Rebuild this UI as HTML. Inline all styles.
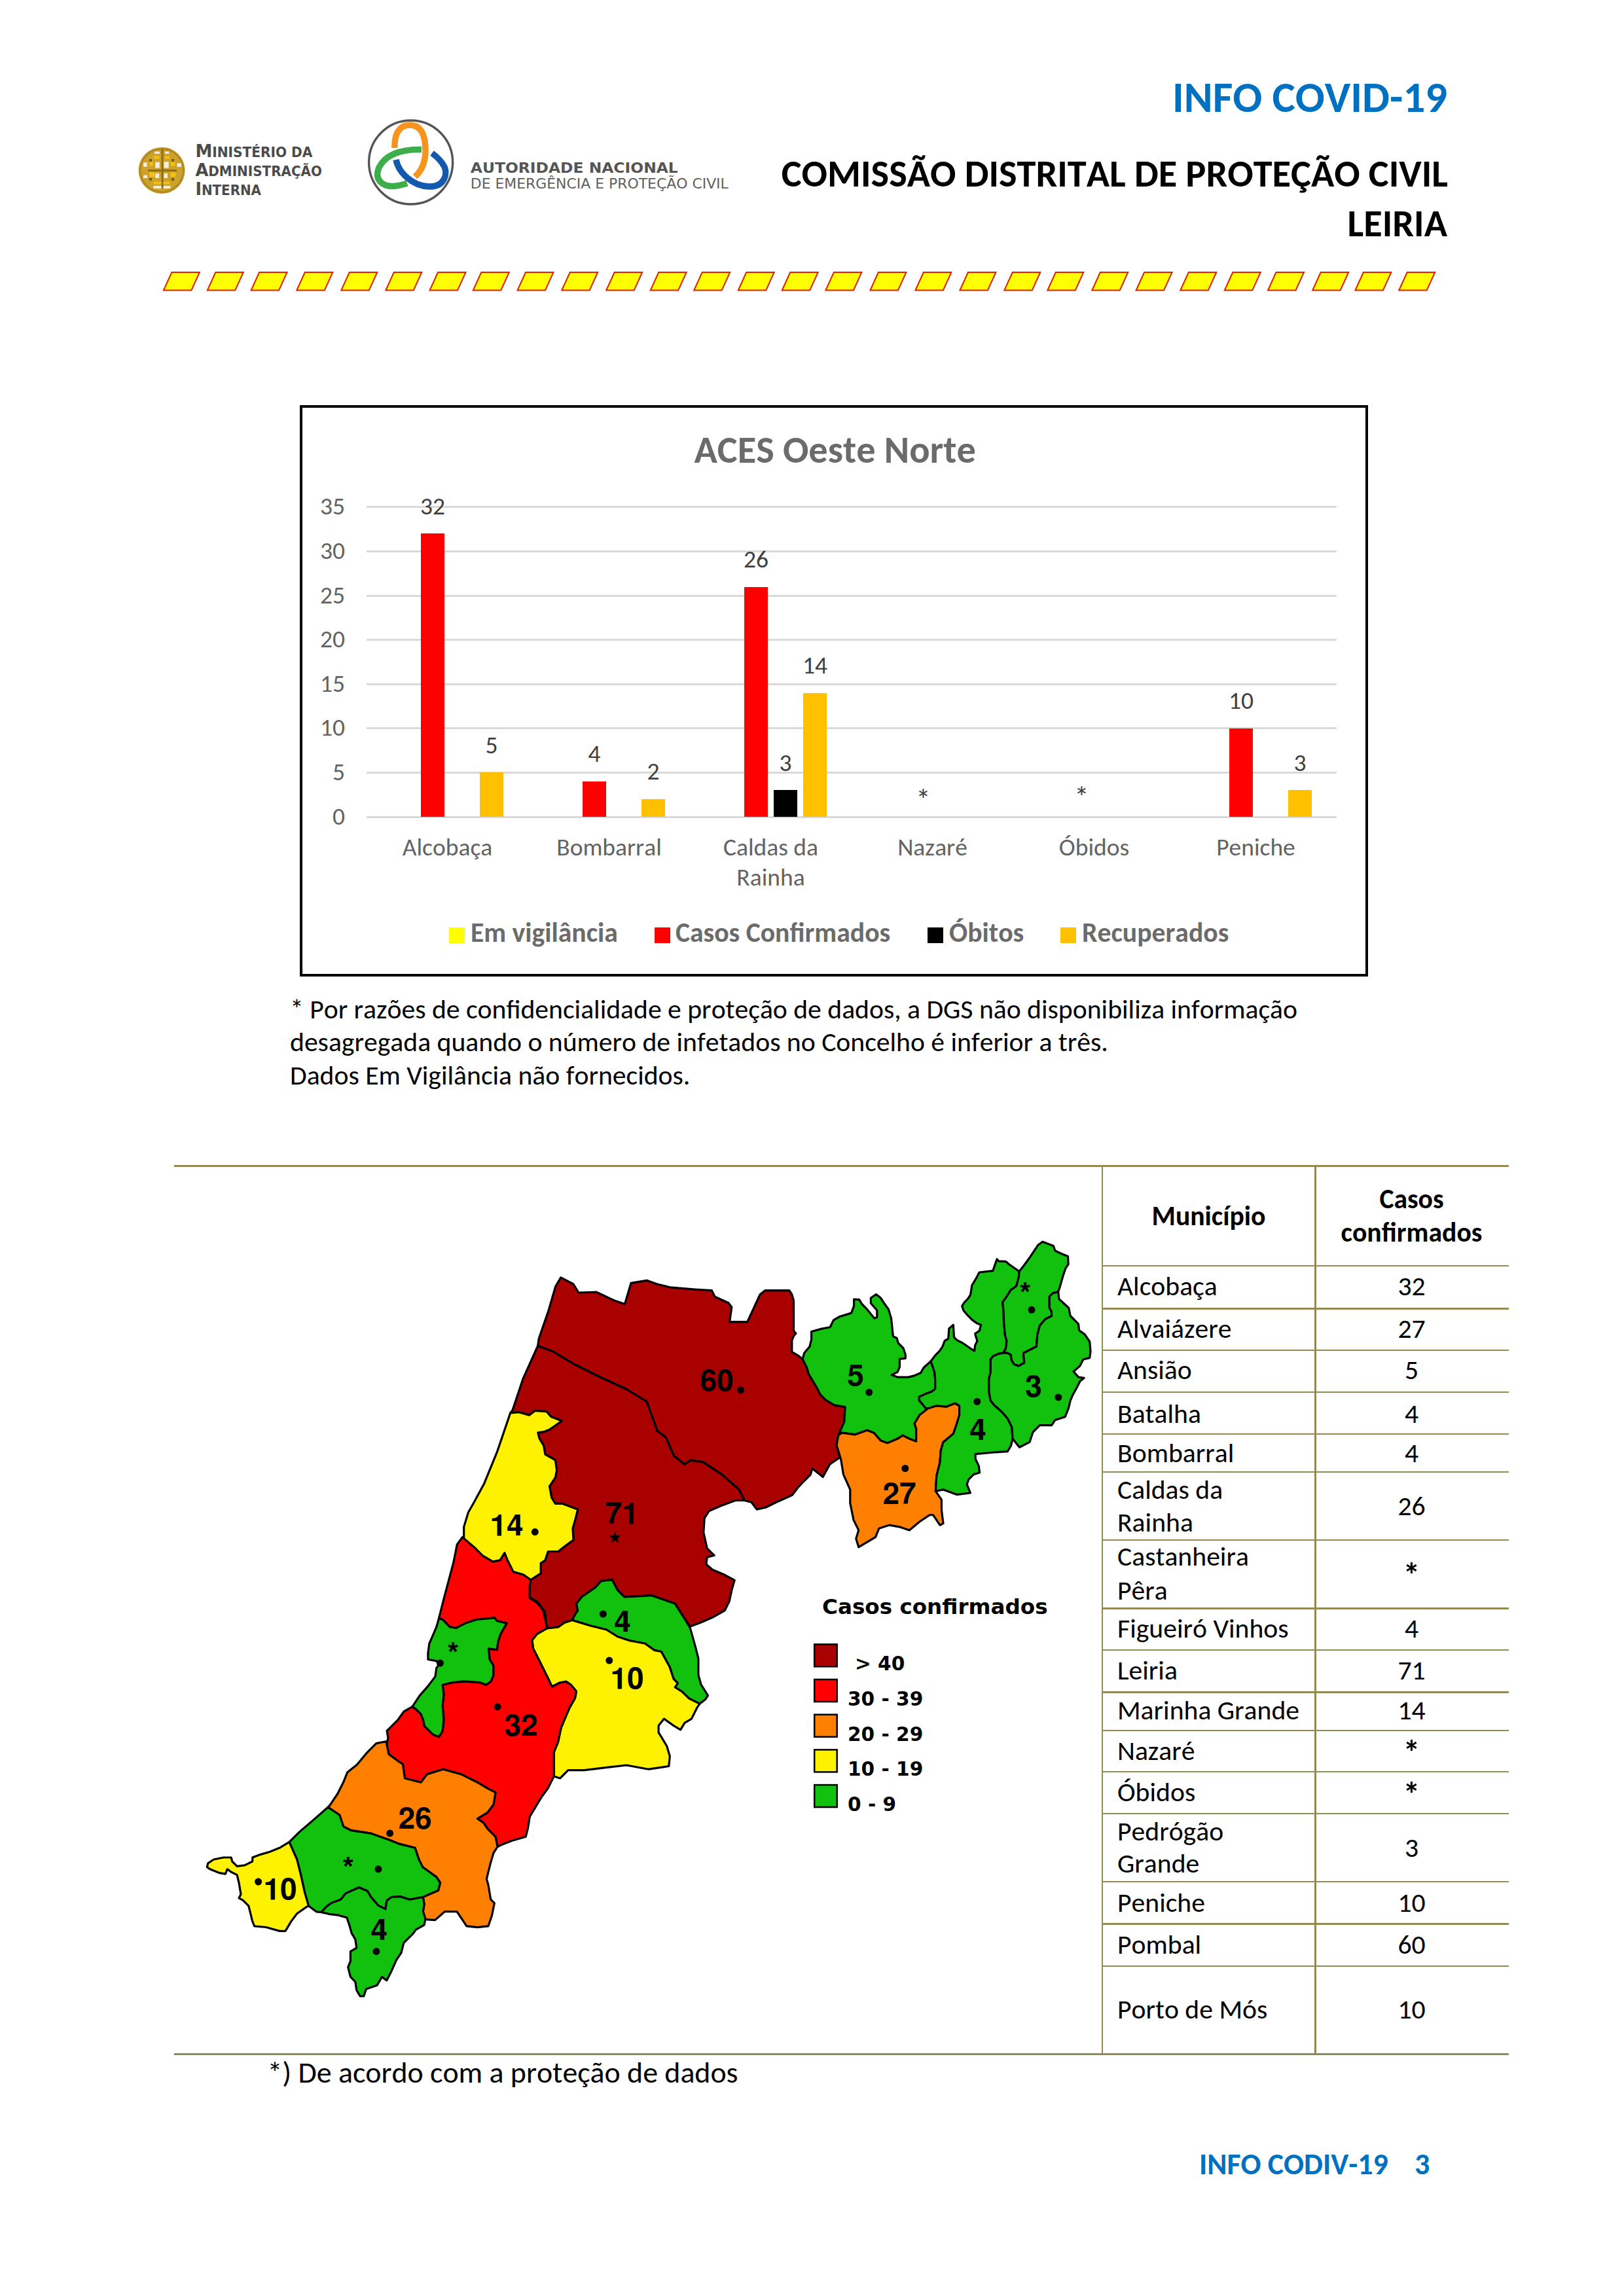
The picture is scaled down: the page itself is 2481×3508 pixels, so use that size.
<!DOCTYPE html>
<html lang="pt"><head><meta charset="utf-8"><title>INFO COVID-19 - Leiria</title>
<style>
html,body{margin:0;padding:0;background:#fff}
body{width:2481px;height:3508px;position:relative;overflow:hidden;font-family:"Carlito","Liberation Sans",sans-serif;font-kerning:none}
.t{position:absolute;white-space:nowrap;line-height:1.2207;font-kerning:none}
.t span{display:inline-block}
</style></head><body>
<div class="t" style="right:270.0px;text-align:right;top:107.8px;font-size:66.67px;font-weight:700;color:#0070C0;"><span id="t0">INFO COVID-19</span></div><div class="t" style="right:269.0px;text-align:right;top:229.5px;font-size:58.33px;font-weight:700;color:#000;"><span id="t1">COMISSÃO DISTRITAL DE PROTEÇÃO CIVIL</span></div><div class="t" style="right:270.0px;text-align:right;top:305.5px;font-size:58.33px;font-weight:700;color:#000;"><span id="t2">LEIRIA</span></div><svg style="position:absolute;left:0;top:0" width="2481" height="500" viewBox="0 0 2481 500"><g fill="#FFFF00" stroke="#E02000" stroke-width="2"><polygon points="249.9,443.5 292.4,443.5 304.9,416 262.4,416" /><polygon points="316.8,443.5 359.3,443.5 371.8,416 329.3,416" /><polygon points="383.6,443.5 426.1,443.5 438.6,416 396.1,416" /><polygon points="453.3,443.5 495.8,443.5 508.3,416 465.8,416" /><polygon points="521.3,443.5 563.8,443.5 576.3,416 533.8,416" /><polygon points="589.3,443.5 631.8,443.5 644.3,416 601.8,416" /><polygon points="656.5,443.5 699.0,443.5 711.5,416 669.0,416" /><polygon points="722.8,443.5 765.3,443.5 777.8,416 735.3,416" /><polygon points="790.5,443.5 833.0,443.5 845.5,416 803.0,416" /><polygon points="858.2,443.5 900.7,443.5 913.2,416 870.7,416" /><polygon points="926.2,443.5 968.7,443.5 981.2,416 938.7,416" /><polygon points="993.7,443.5 1036.2,443.5 1048.7,416 1006.2,416" /><polygon points="1060.2,443.5 1102.7,443.5 1115.2,416 1072.7,416" /><polygon points="1127.7,443.5 1170.2,443.5 1182.7,416 1140.2,416" /><polygon points="1194.7,443.5 1237.2,443.5 1249.7,416 1207.2,416" /><polygon points="1261.4,443.5 1303.9,443.5 1316.4,416 1273.9,416" /><polygon points="1329.4,443.5 1371.9,443.5 1384.4,416 1341.9,416" /><polygon points="1398.4,443.5 1440.9,443.5 1453.4,416 1410.9,416" /><polygon points="1466.4,443.5 1508.9,443.5 1521.4,416 1478.9,416" /><polygon points="1534.3,443.5 1576.8,443.5 1589.3,416 1546.8,416" /><polygon points="1600.3,443.5 1642.8,443.5 1655.3,416 1612.8,416" /><polygon points="1668.3,443.5 1710.8,443.5 1723.3,416 1680.8,416" /><polygon points="1735.6,443.5 1778.1,443.5 1790.6,416 1748.1,416" /><polygon points="1803.3,443.5 1845.8,443.5 1858.3,416 1815.8,416" /><polygon points="1870.8,443.5 1913.3,443.5 1925.8,416 1883.3,416" /><polygon points="1937.0,443.5 1979.5,443.5 1992.0,416 1949.5,416" /><polygon points="2005.2,443.5 2047.7,443.5 2060.2,416 2017.7,416" /><polygon points="2070.4,443.5 2112.9,443.5 2125.4,416 2082.9,416" /><polygon points="2137.2,443.5 2179.7,443.5 2192.2,416 2149.7,416" /></g><circle cx="247.1" cy="260.4" r="35.5" fill="#CDA22B"/><circle cx="247.1" cy="260.4" r="33" fill="none" stroke="#B08A25" stroke-width="3"/><rect x="234.4" y="238.3" width="9.4" height="4.4" fill="#F2C010"/><rect x="252.1" y="238.3" width="7.2" height="4.4" fill="#F2C010"/><rect x="228.3" y="247.1" width="5.5" height="6.7" fill="#F2C010"/><rect x="260.4" y="247.1" width="7.2" height="6.7" fill="#F2C010"/><rect x="228.3" y="263.2" width="7.7" height="7.2" fill="#F2C010"/><rect x="260.4" y="263.2" width="7.8" height="7.2" fill="#F2C010"/><rect x="234.4" y="277.6" width="24.9" height="3.9" fill="#F2C010"/><rect x="219.1" y="248.3" width="5.6" height="6.6" fill="#F4EEDD"/><rect x="237.2" y="247.7" width="6.6" height="8.9" fill="#F4EEDD"/><rect x="250.5" y="247.1" width="7.2" height="9.5" fill="#F4EEDD"/><rect x="270.4" y="249.4" width="6.7" height="5.5" fill="#F4EEDD"/><rect x="219.1" y="267.7" width="5.9" height="4.4" fill="#F4EEDD"/><rect x="237.2" y="264.9" width="6.0" height="7.2" fill="#F4EEDD"/><rect x="250.5" y="264.9" width="5.5" height="7.2" fill="#F4EEDD"/><rect x="236" y="231.6" width="7.8" height="3.4" fill="#F4EEDD"/><rect x="252.1" y="231.6" width="6.1" height="3.4" fill="#F4EEDD"/><rect x="234.4" y="284" width="26.0" height="4.0" fill="#F4EEDD"/><rect x="246.5" y="228" width="3" height="60" fill="#8F6E1C"/><rect x="226" y="259" width="44" height="3" fill="#8F6E1C"/><rect x="228" y="243" width="4" height="4" fill="#7A5A18"/><rect x="262" y="243" width="4" height="4" fill="#7A5A18"/><rect x="228" y="272" width="4" height="4" fill="#7A5A18"/><rect x="262" y="272" width="4" height="4" fill="#7A5A18"/><text x="298.4" y="239.8" style="font-family:'DejaVu Sans','Liberation Sans',sans-serif;font-weight:700;fill:#4B4B4B" textLength="179" lengthAdjust="spacingAndGlyphs"><tspan font-size="26.5">M</tspan><tspan font-size="20.5">INISTÉRIO DA</tspan></text><text x="298.4" y="268.9" style="font-family:'DejaVu Sans','Liberation Sans',sans-serif;font-weight:700;fill:#4B4B4B" textLength="193.5" lengthAdjust="spacingAndGlyphs"><tspan font-size="26.5">A</tspan><tspan font-size="20.5">DMINISTRAÇÃO</tspan></text><text x="298.4" y="298" style="font-family:'DejaVu Sans','Liberation Sans',sans-serif;font-weight:700;fill:#4B4B4B" textLength="100.5" lengthAdjust="spacingAndGlyphs"><tspan font-size="26.5">I</tspan><tspan font-size="20.5">NTERNA</tspan></text><circle cx="627.6" cy="248" r="64" fill="none" stroke="#555" stroke-width="3.4"/><path d="M603,226 C602,202 612,191 626,191 C643,191 650,206 650,230 C650,250 643,262 634,270" fill="none" stroke="#F7941D" stroke-width="9.5"/><path d="M644,228.5 C612,227.5 588,237 579,256 C571,274 584,285 600,284.5 C610,284 616,282 622,280" fill="none" stroke="#3DAE49" stroke-width="9.5"/><path d="M605,244 C609,264 630,284 655,285 C679,286 684,266 679,255 C674,245 667,239 660,234" fill="none" stroke="#1359AE" stroke-width="9.5"/><text x="718.8" y="264" font-size="21.3" style="font-family:'DejaVu Sans','Liberation Sans',sans-serif;font-weight:700;fill:#555" textLength="317" lengthAdjust="spacingAndGlyphs">AUTORIDADE NACIONAL</text><text x="718.8" y="287.5" font-size="21.3" style="font-family:'DejaVu Sans','Liberation Sans',sans-serif;font-weight:400;fill:#5F5F5F" textLength="394" lengthAdjust="spacingAndGlyphs">DE EMERGÊNCIA E PROTEÇÃO CIVIL</text></svg><div style="position:absolute;left:458px;top:619px;width:1632px;height:873px;border:4px solid #000;box-sizing:border-box"></div><div class="t" style="left:1060.5px;top:652.3px;font-size:58.33px;font-weight:700;color:#6B6B6B;"><span id="t3">ACES Oeste Norte</span></div><div style="position:absolute;left:560.0px;top:1246.5px;width:1482.0px;height:3.0px;background:#D9D9D9;"></div><div class="t" style="right:1954.0px;text-align:right;top:1224.6px;font-size:37.5px;font-weight:400;color:#636363;"><span id="t4">0</span></div><div style="position:absolute;left:560.0px;top:1178.9px;width:1482.0px;height:3.0px;background:#D9D9D9;"></div><div class="t" style="right:1954.0px;text-align:right;top:1157.0px;font-size:37.5px;font-weight:400;color:#636363;"><span id="t5">5</span></div><div style="position:absolute;left:560.0px;top:1111.3px;width:1482.0px;height:3.0px;background:#D9D9D9;"></div><div class="t" style="right:1954.0px;text-align:right;top:1089.4px;font-size:37.5px;font-weight:400;color:#636363;"><span id="t6">10</span></div><div style="position:absolute;left:560.0px;top:1043.7px;width:1482.0px;height:3.0px;background:#D9D9D9;"></div><div class="t" style="right:1954.0px;text-align:right;top:1021.8px;font-size:37.5px;font-weight:400;color:#636363;"><span id="t7">15</span></div><div style="position:absolute;left:560.0px;top:976.1px;width:1482.0px;height:3.0px;background:#D9D9D9;"></div><div class="t" style="right:1954.0px;text-align:right;top:954.2px;font-size:37.5px;font-weight:400;color:#636363;"><span id="t8">20</span></div><div style="position:absolute;left:560.0px;top:908.5px;width:1482.0px;height:3.0px;background:#D9D9D9;"></div><div class="t" style="right:1954.0px;text-align:right;top:886.6px;font-size:37.5px;font-weight:400;color:#636363;"><span id="t9">25</span></div><div style="position:absolute;left:560.0px;top:840.9px;width:1482.0px;height:3.0px;background:#D9D9D9;"></div><div class="t" style="right:1954.0px;text-align:right;top:819.0px;font-size:37.5px;font-weight:400;color:#636363;"><span id="t10">30</span></div><div style="position:absolute;left:560.0px;top:773.3px;width:1482.0px;height:3.0px;background:#D9D9D9;"></div><div class="t" style="right:1954.0px;text-align:right;top:751.4px;font-size:37.5px;font-weight:400;color:#636363;"><span id="t11">35</span></div><div style="position:absolute;left:643.0px;top:815.4px;width:36.0px;height:432.6px;background:#FF0000;"></div><div class="t" style="left:61.0px;width:1200px;text-align:center;top:750.7px;font-size:37.5px;font-weight:400;color:#404040;"><span id="t12">32</span></div><div style="position:absolute;left:733.0px;top:1180.4px;width:36.0px;height:67.6px;background:#FFC000;"></div><div class="t" style="left:151.0px;width:1200px;text-align:center;top:1115.7px;font-size:37.5px;font-weight:400;color:#404040;"><span id="t13">5</span></div><div class="t" style="left:83.5px;width:1200px;text-align:center;top:1272.1px;font-size:37.5px;font-weight:400;color:#636363;"><span id="t14">Alcobaça</span></div><div style="position:absolute;left:890.0px;top:1193.9px;width:36.0px;height:54.1px;background:#FF0000;"></div><div class="t" style="left:308.0px;width:1200px;text-align:center;top:1129.2px;font-size:37.5px;font-weight:400;color:#404040;"><span id="t15">4</span></div><div style="position:absolute;left:980.0px;top:1221.0px;width:36.0px;height:27.0px;background:#FFC000;"></div><div class="t" style="left:398.0px;width:1200px;text-align:center;top:1156.3px;font-size:37.5px;font-weight:400;color:#404040;"><span id="t16">2</span></div><div class="t" style="left:330.5px;width:1200px;text-align:center;top:1272.1px;font-size:37.5px;font-weight:400;color:#636363;"><span id="t17">Bombarral</span></div><div style="position:absolute;left:1137.0px;top:896.5px;width:36.0px;height:351.5px;background:#FF0000;"></div><div class="t" style="left:555.0px;width:1200px;text-align:center;top:831.8px;font-size:37.5px;font-weight:400;color:#404040;"><span id="t18">26</span></div><div style="position:absolute;left:1182.0px;top:1207.4px;width:36.0px;height:40.6px;background:#000000;"></div><div class="t" style="left:600.0px;width:1200px;text-align:center;top:1142.7px;font-size:37.5px;font-weight:400;color:#404040;"><span id="t19">3</span></div><div style="position:absolute;left:1227.0px;top:1058.7px;width:36.0px;height:189.3px;background:#FFC000;"></div><div class="t" style="left:645.0px;width:1200px;text-align:center;top:994.0px;font-size:37.5px;font-weight:400;color:#404040;"><span id="t20">14</span></div><div class="t" style="left:577.5px;width:1200px;text-align:center;top:1272.1px;font-size:37.5px;font-weight:400;color:#636363;line-height:45.6px;"><span id="t21">Caldas da<br>Rainha</span></div><div class="t" style="left:824.5px;width:1200px;text-align:center;top:1272.1px;font-size:37.5px;font-weight:400;color:#636363;"><span id="t22">Nazaré</span></div><div class="t" style="left:1071.5px;width:1200px;text-align:center;top:1272.1px;font-size:37.5px;font-weight:400;color:#636363;"><span id="t23">Óbidos</span></div><div style="position:absolute;left:1878.0px;top:1112.8px;width:36.0px;height:135.2px;background:#FF0000;"></div><div class="t" style="left:1296.0px;width:1200px;text-align:center;top:1048.1px;font-size:37.5px;font-weight:400;color:#404040;"><span id="t24">10</span></div><div style="position:absolute;left:1968.0px;top:1207.4px;width:36.0px;height:40.6px;background:#FFC000;"></div><div class="t" style="left:1386.0px;width:1200px;text-align:center;top:1142.7px;font-size:37.5px;font-weight:400;color:#404040;"><span id="t25">3</span></div><div class="t" style="left:1318.5px;width:1200px;text-align:center;top:1272.1px;font-size:37.5px;font-weight:400;color:#636363;"><span id="t26">Peniche</span></div><div class="t" style="left:810.3px;width:1200px;text-align:center;top:1195.1px;font-size:44.7px;font-weight:400;color:#404040;"><span id="t27">*</span></div><div class="t" style="left:1052.3px;width:1200px;text-align:center;top:1191.2px;font-size:44.7px;font-weight:400;color:#404040;"><span id="t28">*</span></div><div style="position:absolute;left:686.0px;top:1417.0px;width:24.0px;height:24.0px;background:#FFFF00;"></div><div class="t" style="left:719.0px;top:1400.3px;font-size:41.67px;font-weight:700;color:#6B6B6B;"><span id="t29">Em vigilância</span></div><div style="position:absolute;left:1000.0px;top:1417.0px;width:24.0px;height:24.0px;background:#FF0000;"></div><div class="t" style="left:1032.0px;top:1400.3px;font-size:41.67px;font-weight:700;color:#6B6B6B;"><span id="t30">Casos Confirmados</span></div><div style="position:absolute;left:1417.0px;top:1417.0px;width:24.0px;height:24.0px;background:#000000;"></div><div class="t" style="left:1450.0px;top:1400.3px;font-size:41.67px;font-weight:700;color:#6B6B6B;"><span id="t31">Óbitos</span></div><div style="position:absolute;left:1620.0px;top:1417.0px;width:24.0px;height:24.0px;background:#FFC000;"></div><div class="t" style="left:1653.0px;top:1400.3px;font-size:41.67px;font-weight:700;color:#6B6B6B;"><span id="t32">Recuperados</span></div><div class="t" style="left:443.0px;top:1516.5px;font-size:41.67px;font-weight:400;color:#000;"><span id="t33">* Por razões de confidencialidade e proteção de dados, a DGS não disponibiliza informação</span></div><div class="t" style="left:443.0px;top:1567.4px;font-size:41.67px;font-weight:400;color:#000;"><span id="t34">desagregada quando o número de infetados no Concelho é inferior a três.</span></div><div class="t" style="left:443.0px;top:1618.2px;font-size:41.67px;font-weight:400;color:#000;"><span id="t35">Dados Em Vigilância não fornecidos.</span></div><div style="position:absolute;left:266.0px;top:1780.0px;width:2039.0px;height:2.8px;background:#938953;"></div><div style="position:absolute;left:266.0px;top:3137.0px;width:2039.0px;height:2.8px;background:#938953;"></div><div style="position:absolute;left:1682.5px;top:1780.0px;width:2.5px;height:1359.0px;background:#938953;"></div><div style="position:absolute;left:2008.0px;top:1780.0px;width:2.5px;height:1359.0px;background:#938953;"></div><div style="position:absolute;left:1682.5px;top:1932.8px;width:622.5px;height:2.5px;background:#938953;"></div><div style="position:absolute;left:1682.5px;top:1998.2px;width:622.5px;height:2.5px;background:#938953;"></div><div style="position:absolute;left:1682.5px;top:2061.9px;width:622.5px;height:2.5px;background:#938953;"></div><div style="position:absolute;left:1682.5px;top:2125.9px;width:622.5px;height:2.5px;background:#938953;"></div><div style="position:absolute;left:1682.5px;top:2189.8px;width:622.5px;height:2.5px;background:#938953;"></div><div style="position:absolute;left:1682.5px;top:2247.8px;width:622.5px;height:2.5px;background:#938953;"></div><div style="position:absolute;left:1682.5px;top:2351.8px;width:622.5px;height:2.5px;background:#938953;"></div><div style="position:absolute;left:1682.5px;top:2456.2px;width:622.5px;height:2.5px;background:#938953;"></div><div style="position:absolute;left:1682.5px;top:2519.9px;width:622.5px;height:2.5px;background:#938953;"></div><div style="position:absolute;left:1682.5px;top:2584.1px;width:622.5px;height:2.5px;background:#938953;"></div><div style="position:absolute;left:1682.5px;top:2642.8px;width:622.5px;height:2.5px;background:#938953;"></div><div style="position:absolute;left:1682.5px;top:2705.9px;width:622.5px;height:2.5px;background:#938953;"></div><div style="position:absolute;left:1682.5px;top:2769.9px;width:622.5px;height:2.5px;background:#938953;"></div><div style="position:absolute;left:1682.5px;top:2873.9px;width:622.5px;height:2.5px;background:#938953;"></div><div style="position:absolute;left:1682.5px;top:2938.3px;width:622.5px;height:2.5px;background:#938953;"></div><div style="position:absolute;left:1682.5px;top:3002.8px;width:622.5px;height:2.5px;background:#938953;"></div><div class="t" style="left:1246.5px;width:1200px;text-align:center;top:1832.5px;font-size:41.67px;font-weight:700;color:#000;"><span id="t36">Município</span></div><div class="t" style="left:1556.5px;width:1200px;text-align:center;top:1807.0px;font-size:41.67px;font-weight:700;color:#000;"><span id="t37">Casos</span></div><div class="t" style="left:1556.5px;width:1200px;text-align:center;top:1857.7px;font-size:41.67px;font-weight:700;color:#000;"><span id="t38">confirmados</span></div><div class="t" style="left:1707.0px;top:1940.1px;font-size:41.67px;font-weight:400;color:#000;"><span id="t39">Alcobaça</span></div><div class="t" style="left:1556.5px;width:1200px;text-align:center;top:1940.1px;font-size:41.67px;font-weight:400;color:#000;"><span id="t40">32</span></div><div class="t" style="left:1707.0px;top:2004.5px;font-size:41.67px;font-weight:400;color:#000;"><span id="t41">Alvaiázere</span></div><div class="t" style="left:1556.5px;width:1200px;text-align:center;top:2004.5px;font-size:41.67px;font-weight:400;color:#000;"><span id="t42">27</span></div><div class="t" style="left:1707.0px;top:2067.9px;font-size:41.67px;font-weight:400;color:#000;"><span id="t43">Ansião</span></div><div class="t" style="left:1556.5px;width:1200px;text-align:center;top:2067.9px;font-size:41.67px;font-weight:400;color:#000;"><span id="t44">5</span></div><div class="t" style="left:1707.0px;top:2134.8px;font-size:41.67px;font-weight:400;color:#000;"><span id="t45">Batalha</span></div><div class="t" style="left:1556.5px;width:1200px;text-align:center;top:2134.8px;font-size:41.67px;font-weight:400;color:#000;"><span id="t46">4</span></div><div class="t" style="left:1707.0px;top:2195.1px;font-size:41.67px;font-weight:400;color:#000;"><span id="t47">Bombarral</span></div><div class="t" style="left:1556.5px;width:1200px;text-align:center;top:2195.1px;font-size:41.67px;font-weight:400;color:#000;"><span id="t48">4</span></div><div class="t" style="left:1707.0px;top:2250.8px;font-size:41.67px;font-weight:400;color:#000;"><span id="t49">Caldas da</span></div><div class="t" style="left:1707.0px;top:2301.1px;font-size:41.67px;font-weight:400;color:#000;"><span id="t50">Rainha</span></div><div class="t" style="left:1556.5px;width:1200px;text-align:center;top:2276.0px;font-size:41.67px;font-weight:400;color:#000;"><span id="t51">26</span></div><div class="t" style="left:1707.0px;top:2353.3px;font-size:41.67px;font-weight:400;color:#000;"><span id="t52">Castanheira</span></div><div class="t" style="left:1707.0px;top:2404.5px;font-size:41.67px;font-weight:400;color:#000;"><span id="t53">Pêra</span></div><div class="t" style="left:1556.5px;width:1200px;text-align:center;top:2375.8px;font-size:52px;font-weight:700;color:#000;"><span id="t54">*</span></div><div class="t" style="left:1707.0px;top:2463.1px;font-size:41.67px;font-weight:400;color:#000;"><span id="t55">Figueiró Vinhos</span></div><div class="t" style="left:1556.5px;width:1200px;text-align:center;top:2463.1px;font-size:41.67px;font-weight:400;color:#000;"><span id="t56">4</span></div><div class="t" style="left:1707.0px;top:2527.2px;font-size:41.67px;font-weight:400;color:#000;"><span id="t57">Leiria</span></div><div class="t" style="left:1556.5px;width:1200px;text-align:center;top:2527.2px;font-size:41.67px;font-weight:400;color:#000;"><span id="t58">71</span></div><div class="t" style="left:1707.0px;top:2587.9px;font-size:41.67px;font-weight:400;color:#000;"><span id="t59">Marinha Grande</span></div><div class="t" style="left:1556.5px;width:1200px;text-align:center;top:2587.9px;font-size:41.67px;font-weight:400;color:#000;"><span id="t60">14</span></div><div class="t" style="left:1707.0px;top:2649.5px;font-size:41.67px;font-weight:400;color:#000;"><span id="t61">Nazaré</span></div><div class="t" style="left:1556.5px;width:1200px;text-align:center;top:2646.8px;font-size:52px;font-weight:700;color:#000;"><span id="t62">*</span></div><div class="t" style="left:1707.0px;top:2712.7px;font-size:41.67px;font-weight:400;color:#000;"><span id="t63">Óbidos</span></div><div class="t" style="left:1556.5px;width:1200px;text-align:center;top:2710.8px;font-size:52px;font-weight:700;color:#000;"><span id="t64">*</span></div><div class="t" style="left:1707.0px;top:2772.6px;font-size:41.67px;font-weight:400;color:#000;"><span id="t65">Pedrógão</span></div><div class="t" style="left:1707.0px;top:2822.1px;font-size:41.67px;font-weight:400;color:#000;"><span id="t66">Grande</span></div><div class="t" style="left:1556.5px;width:1200px;text-align:center;top:2797.8px;font-size:41.67px;font-weight:400;color:#000;"><span id="t67">3</span></div><div class="t" style="left:1707.0px;top:2881.5px;font-size:41.67px;font-weight:400;color:#000;"><span id="t68">Peniche</span></div><div class="t" style="left:1556.5px;width:1200px;text-align:center;top:2881.5px;font-size:41.67px;font-weight:400;color:#000;"><span id="t69">10</span></div><div class="t" style="left:1707.0px;top:2946.4px;font-size:41.67px;font-weight:400;color:#000;"><span id="t70">Pombal</span></div><div class="t" style="left:1556.5px;width:1200px;text-align:center;top:2946.4px;font-size:41.67px;font-weight:400;color:#000;"><span id="t71">60</span></div><div class="t" style="left:1707.0px;top:3044.8px;font-size:41.67px;font-weight:400;color:#000;"><span id="t72">Porto de Mós</span></div><div class="t" style="left:1556.5px;width:1200px;text-align:center;top:3044.8px;font-size:41.67px;font-weight:400;color:#000;"><span id="t73">10</span></div><div class="t" style="left:408.5px;top:3139.4px;font-size:45.83px;font-weight:400;color:#000;"><span id="t74">*) De acordo com a proteção de dados</span></div><div class="t" style="left:1832.0px;top:3278.9px;font-size:45.83px;font-weight:700;color:#0070C0;"><span id="t75">INFO CODIV-19</span></div><div class="t" style="left:2161.0px;top:3278.9px;font-size:45.83px;font-weight:700;color:#0070C0;"><span id="t76">3</span></div><svg style="position:absolute;left:0;top:0" width="2481" height="3508" viewBox="0 0 2481 3508"><g stroke="#000" stroke-width="3.2" stroke-linejoin="round"><polygon fill="#A90000" points="856.8,1951.8 876.0,1962.0 884.0,1975.0 911.3,1974.2 940.0,1987.6 954.5,1992.4 964.0,1960.4 988.0,1956.3 1004.0,1962.0 1023.4,1966.8 1061.8,1970.0 1087.4,1971.6 1092.2,1981.2 1113.0,1990.8 1117.8,1997.2 1114.6,2019.7 1141.8,2019.7 1161.0,1978.0 1169.0,1971.6 1205.7,1971.5 1209.8,1977.6 1212.5,1987.1 1212.5,2033.2 1215.9,2037.2 1212.5,2041.3 1209.8,2048.0 1209.8,2065.7 1219.3,2071.1 1226.1,2076.5 1232.8,2090.0 1235.5,2099.5 1247.7,2119.8 1253.2,2130.7 1261.3,2138.8 1274.8,2146.9 1291.1,2149.7 1289.7,2172.4 1280.7,2193.1 1278.1,2208.6 1283.3,2226.7 1267.8,2237.1 1257.0,2256.6 1241.0,2243.8 1238.0,2253.4 1228.3,2263.0 1218.4,2273.5 1210.3,2284.4 1185.9,2295.2 1169.7,2303.3 1156.1,2306.1 1148.0,2295.2 1137.1,2292.5 1129.0,2275.8 1103.4,2253.4 1074.6,2234.2 1055.4,2231.0 1045.8,2237.4 1029.8,2224.6 1017.0,2195.8 1004.0,2186.2 988.0,2141.3 956.0,2122.0 914.5,2103.0 876.0,2083.7 844.0,2064.5 821.6,2056.5 823.2,2045.3 837.6,2003.6 848.8,1965.2"/><polygon fill="#A90000" points="821.6,2056.5 844.0,2064.5 876.0,2083.7 914.5,2103.0 956.0,2122.0 988.0,2141.3 1004.0,2186.2 1017.0,2195.8 1029.8,2224.6 1045.8,2237.4 1055.4,2231.0 1074.6,2234.2 1103.4,2253.4 1129.0,2275.8 1137.1,2292.5 1123.6,2292.5 1101.9,2300.6 1083.0,2308.8 1076.2,2319.6 1074.8,2341.3 1080.2,2365.7 1091.1,2376.5 1080.2,2379.2 1078.9,2390.0 1088.4,2398.2 1107.3,2406.3 1122.2,2414.4 1118.2,2428.0 1114.1,2446.9 1107.3,2460.5 1088.4,2471.3 1069.4,2479.5 1054.5,2484.9 1045.9,2473.3 1031.3,2450.3 995.7,2437.7 978.9,2438.7 953.8,2439.8 943.3,2429.3 934.9,2413.6 918.2,2415.7 909.8,2425.1 888.9,2439.8 880.5,2450.3 882.6,2460.7 878.4,2467.0 874.2,2475.4 861.7,2479.6 853.3,2485.8 835.5,2487.9 832.3,2462.8 821.9,2448.2 808.3,2439.8 809.3,2425.1 807.2,2412.6 810.7,2413.8 826.2,2403.8 826.2,2388.3 832.9,2383.8 837.3,2370.5 852.8,2370.5 863.9,2361.7 876.1,2352.8 875.0,2335.1 879.4,2319.6 882.7,2306.3 859.5,2297.4 848.4,2297.4 842.8,2288.5 839.5,2270.8 848.4,2257.5 850.6,2246.4 848.4,2230.9 832.9,2222.0 830.6,2208.7 824.0,2197.6 821.8,2188.8 830.6,2187.7 839.5,2184.3 858.4,2171.0 841.7,2164.4 835.1,2156.6 817.3,2155.5 808.5,2162.2 793.0,2157.7 779.7,2158.8 783.2,2154.1 799.2,2106.1"/><polygon fill="#FFF200" points="779.7,2158.8 793.0,2157.7 808.5,2162.2 817.3,2155.5 835.1,2156.6 841.7,2164.4 858.4,2171.0 839.5,2184.3 830.6,2187.7 821.8,2188.8 824.0,2197.6 830.6,2208.7 832.9,2222.0 848.4,2230.9 850.6,2246.4 848.4,2257.5 839.5,2270.8 842.8,2288.5 848.4,2297.4 859.5,2297.4 882.7,2306.3 879.4,2319.6 875.0,2335.1 876.1,2352.8 863.9,2361.7 852.8,2370.5 837.3,2370.5 832.9,2383.8 826.2,2388.3 826.2,2403.8 810.7,2413.8 799.6,2406.0 784.1,2401.6 775.2,2383.8 770.8,2372.8 764.1,2383.8 753.1,2386.1 737.5,2377.2 724.2,2363.9 708.7,2350.6 708.7,2332.9 715.4,2310.7 724.2,2295.2 739.8,2266.4 759.7,2217.6"/><polygon fill="#11C10E" points="874.2,2475.4 878.4,2467.0 882.6,2460.7 880.5,2450.3 888.9,2439.8 909.8,2425.1 918.2,2415.7 934.9,2413.6 943.3,2429.3 953.8,2439.8 978.9,2438.7 995.7,2437.7 1031.3,2450.3 1045.9,2473.3 1054.5,2487.9 1062.7,2517.3 1066.9,2534.0 1066.9,2559.1 1071.0,2573.8 1081.5,2590.5 1077.3,2596.8 1068.9,2603.1 1052.2,2594.7 1041.7,2584.3 1031.3,2578.0 1035.4,2571.7 1029.2,2565.4 1022.9,2546.6 1010.3,2523.5 999.8,2521.4 985.2,2511.0 962.2,2506.8 943.3,2500.5 926.6,2490.0 901.4,2483.8"/><polygon fill="#FFF200" points="835.5,2487.9 853.3,2485.8 861.7,2479.6 874.2,2475.4 901.4,2483.8 926.6,2490.0 943.3,2500.5 962.2,2506.8 985.2,2511.0 999.8,2521.4 1010.3,2523.5 1022.9,2546.6 1029.2,2565.4 1035.4,2571.7 1031.3,2578.0 1041.7,2584.3 1052.2,2594.7 1068.9,2603.1 1064.8,2609.4 1060.6,2617.8 1056.4,2626.1 1045.9,2632.4 1039.6,2642.9 1029.2,2636.6 1014.5,2626.1 1006.1,2636.6 1006.1,2647.1 1009.5,2652.4 1018.7,2667.8 1023.3,2683.2 1021.8,2698.5 991.0,2703.2 957.2,2697.0 929.5,2700.1 892.5,2704.7 867.9,2704.7 855.6,2717.0 846.3,2713.9 846.3,2677.0 852.5,2661.6 857.1,2640.0 864.8,2621.6 870.0,2609.4 878.4,2594.7 880.5,2584.3 871.9,2573.8 864.5,2569.2 855.3,2571.0 843.3,2577.0 834.9,2559.5 823.9,2537.3 814.6,2518.9 812.8,2505.9 820.2,2496.7"/><polygon fill="#FF0000" points="706.5,2348.4 708.7,2350.6 724.2,2363.9 737.5,2377.2 753.1,2386.1 764.1,2383.8 770.8,2372.8 775.2,2383.8 784.1,2401.6 799.6,2406.0 810.7,2413.8 809.1,2424.7 809.1,2441.3 820.2,2448.7 829.4,2459.8 833.1,2474.5 835.5,2487.9 820.2,2496.7 812.8,2505.9 814.6,2518.9 823.9,2537.3 834.9,2559.5 843.3,2577.0 855.3,2571.0 864.5,2569.2 871.9,2573.8 880.5,2584.3 878.4,2594.7 870.0,2609.4 864.8,2621.6 857.1,2640.0 852.5,2661.6 846.3,2677.0 846.3,2713.9 837.1,2732.4 827.9,2744.7 818.6,2760.1 809.4,2775.5 806.3,2794.0 803.2,2806.3 781.7,2812.5 766.3,2818.6 760.1,2821.7 757.0,2806.3 744.7,2794.0 738.6,2784.8 729.3,2778.6 744.7,2769.4 754.0,2757.0 757.0,2738.6 744.7,2732.4 729.3,2723.2 704.7,2710.9 677.0,2703.2 652.4,2710.9 643.1,2723.2 618.5,2717.0 615.4,2695.5 606.2,2689.3 593.9,2680.1 590.8,2664.7 592.9,2655.6 591.1,2644.5 594.8,2640.8 607.7,2627.9 617.0,2615.0 629.9,2607.6 635.4,2611.3 642.8,2618.6 646.5,2627.9 648.4,2637.1 661.3,2650.0 670.5,2653.7 676.1,2644.5 677.9,2627.9 676.1,2605.7 677.9,2589.1 676.1,2574.3 690.8,2570.6 709.3,2568.8 733.3,2570.6 742.6,2574.3 750.0,2568.8 753.7,2559.5 753.7,2544.7 748.1,2535.5 746.3,2518.9 759.2,2520.7 761.0,2507.8 764.7,2496.7 774.0,2480.1 759.2,2476.4 755.5,2471.8 727.8,2474.5 711.2,2480.1 696.4,2487.5 687.1,2485.6 676.1,2474.5 670.5,2472.7 677.9,2443.1 685.3,2415.4 692.7,2387.7 698.2,2360.0"/><polygon fill="#11C10E" points="670.5,2472.7 676.1,2474.5 687.1,2485.6 696.4,2487.5 711.2,2480.1 727.8,2474.5 755.5,2471.8 759.2,2476.4 774.0,2480.1 764.7,2496.7 761.0,2507.8 759.2,2520.7 746.3,2518.9 748.1,2535.5 753.7,2544.7 753.7,2559.5 750.0,2568.8 742.6,2574.3 733.3,2570.6 709.3,2568.8 690.8,2570.6 676.1,2574.3 677.9,2589.1 676.1,2605.7 677.9,2627.9 676.1,2644.5 670.5,2653.7 661.3,2650.0 648.4,2637.1 646.5,2627.9 642.8,2618.6 635.4,2611.3 629.9,2607.6 641.0,2590.9 653.9,2576.1 665.0,2561.4 666.8,2548.4 672.4,2541.0 665.0,2537.3 653.9,2535.5 653.9,2526.3 655.7,2511.5 661.3,2498.6 666.8,2485.6"/><polygon fill="#FF8000" points="589.7,2660.7 574.9,2663.6 560.1,2678.4 545.3,2696.2 530.6,2708.0 524.7,2722.8 515.8,2740.5 504.0,2758.2 501.0,2761.2 518.7,2773.0 524.7,2790.8 536.5,2796.7 566.0,2801.1 595.6,2811.4 610.4,2817.4 634.0,2823.3 639.9,2841.0 645.8,2852.8 666.5,2867.6 672.5,2876.5 669.5,2888.3 648.8,2897.2 646.3,2898.5 648.1,2909.6 646.3,2920.6 650.0,2932.7 664.7,2933.6 679.5,2920.6 698.0,2920.6 705.4,2931.7 712.8,2942.8 729.4,2944.7 746.0,2942.8 751.6,2926.2 755.3,2907.7 749.7,2902.2 746.0,2880.0 743.4,2870.6 749.3,2846.9 754.0,2831.0 760.1,2821.7 757.0,2806.3 744.7,2794.0 738.6,2784.8 729.3,2778.6 744.7,2769.4 754.0,2757.0 757.0,2738.6 744.7,2732.4 729.3,2723.2 704.7,2710.9 677.0,2703.2 652.4,2710.9 643.1,2723.2 618.5,2717.0 615.4,2695.5 606.2,2689.3 593.9,2680.1 590.8,2664.7"/><polygon fill="#11C10E" points="501.0,2761.2 477.4,2781.9 456.7,2799.6 441.9,2814.4 453.7,2841.0 459.6,2864.6 465.5,2891.3 471.4,2911.9 483.3,2920.8 491.1,2921.6 498.5,2913.3 505.9,2907.7 520.6,2902.2 528.0,2892.9 548.4,2883.7 561.3,2889.2 566.8,2898.5 577.9,2911.4 589.0,2916.9 590.8,2904.0 598.2,2898.5 611.2,2897.6 625.9,2902.2 646.3,2898.5 648.8,2897.2 669.5,2888.3 672.5,2876.5 666.5,2867.6 645.8,2852.8 639.9,2841.0 634.0,2823.3 610.4,2817.4 595.6,2811.4 566.0,2801.1 536.5,2796.7 524.7,2790.8 518.7,2773.0"/><polygon fill="#11C10E" points="491.1,2921.6 498.5,2913.3 505.9,2907.7 520.6,2902.2 528.0,2892.9 548.4,2883.7 561.3,2889.2 566.8,2898.5 577.9,2911.4 589.0,2916.9 590.8,2904.0 598.2,2898.5 611.2,2897.6 625.9,2902.2 646.3,2898.5 648.1,2909.6 646.3,2920.6 650.0,2931.7 648.1,2941.0 635.2,2948.4 631.5,2953.9 616.7,2968.7 613.0,2983.5 605.6,2994.5 598.2,3011.2 590.8,3025.9 583.5,3020.4 576.1,3033.3 559.4,3038.9 555.7,3050.0 550.2,3050.0 544.7,3040.7 542.8,3027.8 535.4,3020.4 531.7,3005.6 535.4,2996.4 535.4,2981.6 544.7,2976.1 542.8,2963.1 537.3,2953.9 533.6,2941.0 529.9,2929.9 516.9,2926.2 502.2,2924.3"/><polygon fill="#FFF200" points="441.9,2814.4 427.1,2823.3 412.3,2829.2 397.5,2833.6 385.7,2838.0 385.7,2844.0 373.9,2849.9 362.1,2851.3 354.7,2844.0 353.2,2838.0 341.4,2838.0 326.6,2841.0 317.7,2846.9 316.3,2852.8 320.7,2855.8 335.5,2861.7 344.3,2863.2 347.3,2855.8 353.2,2860.2 362.1,2864.6 365.0,2876.5 368.0,2894.2 365.0,2900.1 370.9,2903.1 379.8,2911.9 385.7,2935.6 388.7,2943.0 406.4,2944.5 427.1,2950.4 436.0,2950.4 444.8,2935.6 453.7,2923.8 468.5,2913.4 471.4,2911.9 465.5,2891.3 459.6,2864.6 453.7,2841.0"/><polygon fill="#11C10E" points="1226.1,2076.5 1228.8,2067.0 1236.9,2057.5 1239.6,2046.7 1239.6,2034.5 1254.5,2030.4 1268.1,2027.7 1273.5,2016.9 1283.0,2011.5 1300.6,2006.1 1304.6,1995.2 1304.6,1985.1 1312.8,1985.7 1316.8,1992.5 1323.6,1999.3 1335.8,2014.2 1339.8,2012.8 1339.8,2002.0 1330.4,1991.2 1330.4,1983.0 1338.5,1977.6 1345.3,1983.0 1350.7,1991.2 1357.5,2000.6 1361.5,2014.2 1364.4,2042.1 1370.0,2044.3 1372.2,2052.0 1380.0,2059.8 1383.3,2069.8 1383.3,2075.3 1374.4,2076.4 1374.4,2088.6 1371.1,2096.4 1362.2,2100.8 1371.1,2104.1 1387.7,2104.1 1396.6,2101.9 1406.6,2097.5 1411.0,2089.7 1422.1,2079.8 1424.3,2086.4 1427.6,2096.4 1428.7,2107.5 1428.7,2121.9 1423.2,2126.3 1414.3,2129.6 1404.3,2134.1 1404.3,2139.6 1409.9,2146.3 1414.3,2151.8 1417.6,2152.9 1404.8,2162.1 1397.1,2175.0 1399.7,2182.8 1399.7,2202.2 1389.3,2198.3 1379.0,2193.1 1371.2,2198.3 1355.7,2204.7 1345.3,2200.9 1335.0,2189.2 1324.7,2185.3 1306.6,2191.8 1285.9,2189.2 1280.7,2193.1 1289.7,2172.4 1291.1,2149.7 1274.8,2146.9 1261.3,2138.8 1253.2,2130.7 1247.7,2119.8 1235.5,2099.5 1232.8,2090.0"/><polygon fill="#FF8000" points="1280.7,2193.1 1285.9,2189.2 1306.6,2191.8 1324.7,2185.3 1335.0,2189.2 1345.3,2200.9 1355.7,2204.7 1371.2,2198.3 1379.0,2193.1 1389.3,2198.3 1399.7,2202.2 1399.7,2182.8 1397.1,2175.0 1404.8,2162.1 1417.8,2151.7 1430.7,2147.8 1446.2,2149.1 1459.1,2144.0 1465.6,2147.8 1465.6,2162.1 1461.7,2175.0 1456.5,2190.5 1441.0,2203.4 1437.2,2216.4 1435.9,2234.5 1430.7,2255.2 1429.4,2278.4 1438.4,2291.4 1438.4,2306.9 1441.0,2327.6 1435.9,2330.2 1425.5,2314.7 1420.3,2314.7 1404.8,2325.0 1389.3,2337.9 1373.8,2332.8 1358.3,2330.2 1342.8,2335.3 1337.6,2348.3 1327.2,2354.7 1311.7,2363.8 1307.8,2350.9 1311.7,2337.9 1304.0,2322.4 1298.8,2296.5 1298.8,2275.9 1288.4,2252.6 1284.6,2229.3 1278.1,2208.6"/><polygon fill="#11C10E" points="1422.1,2079.8 1428.7,2070.9 1435.4,2064.2 1439.8,2057.6 1443.1,2048.7 1448.7,2045.4 1449.8,2029.9 1456.4,2024.3 1457.5,2043.2 1462.0,2047.6 1470.8,2052.0 1481.9,2059.8 1488.6,2064.2 1489.7,2055.4 1493.0,2048.7 1490.8,2042.1 1489.7,2037.6 1496.3,2033.2 1498.6,2024.3 1493.0,2022.1 1485.2,2016.6 1477.5,2008.8 1472.0,2002.2 1469.7,1995.5 1473.1,1990.0 1478.6,1984.4 1482.5,1978.5 1484.9,1963.7 1492.3,1951.4 1496.0,1944.0 1516.9,1941.6 1520.6,1930.5 1523.1,1923.7 1525.6,1926.8 1536.7,1927.4 1541.6,1931.7 1553.9,1940.3 1557.0,1942.8 1556.4,1951.4 1552.7,1965.0 1544.0,1971.1 1537.9,1981.0 1531.7,1989.6 1533.0,2003.2 1533.6,2020.4 1535.4,2040.1 1537.9,2048.7 1536.7,2059.8 1533.0,2067.2 1525.6,2068.4 1517.0,2072.1 1513.3,2077.0 1513.3,2096.7 1510.8,2106.6 1510.8,2126.3 1513.3,2140.0 1518.6,2146.6 1530.7,2157.3 1539.3,2167.2 1545.8,2180.2 1547.0,2198.3 1544.5,2208.6 1539.3,2217.7 1518.6,2219.0 1490.2,2221.6 1490.2,2229.3 1495.3,2239.7 1496.6,2250.0 1487.6,2252.6 1479.8,2260.3 1477.2,2268.1 1482.4,2281.0 1461.7,2283.6 1441.0,2275.9 1429.4,2278.4 1430.7,2255.2 1435.9,2234.5 1437.2,2216.4 1441.0,2203.4 1456.5,2190.5 1461.7,2175.0 1465.6,2162.1 1465.6,2147.8 1459.1,2144.0 1446.2,2149.1 1430.7,2147.8 1417.8,2151.7 1414.3,2151.8 1409.9,2146.3 1404.3,2139.6 1404.3,2134.1 1414.3,2129.6 1423.2,2126.3 1428.7,2121.9 1428.7,2107.5 1427.6,2096.4 1424.3,2086.4"/><polygon fill="#11C10E" points="1592.7,1897.2 1609.3,1903.4 1611.8,1910.8 1619.2,1914.5 1631.5,1919.4 1632.1,1931.7 1627.8,1937.9 1624.1,1949.0 1619.2,1966.2 1616.7,1973.6 1608.1,1976.0 1603.2,1981.0 1603.2,1998.2 1606.2,2003.2 1606.8,2010.5 1597.0,2015.5 1588.4,2025.3 1584.7,2040.1 1583.4,2057.3 1573.6,2062.3 1563.7,2067.2 1563.7,2072.1 1565.0,2082.0 1556.4,2086.9 1549.0,2084.4 1545.3,2078.3 1544.0,2069.7 1539.1,2067.2 1533.0,2067.2 1536.7,2059.8 1537.9,2048.7 1535.4,2040.1 1533.6,2020.4 1533.0,2003.2 1531.7,1989.6 1537.9,1981.0 1544.0,1971.1 1552.7,1965.0 1556.4,1951.4 1557.0,1942.8 1563.7,1934.2 1573.6,1920.6 1585.9,1902.2"/><polygon fill="#11C10E" points="1616.7,1973.6 1617.9,1984.7 1632.7,1998.2 1635.2,2010.5 1647.5,2022.9 1648.7,2032.7 1657.3,2038.9 1664.7,2050.0 1666.0,2064.7 1664.7,2074.6 1654.9,2077.0 1650.0,2086.9 1640.1,2095.5 1647.5,2104.1 1656.1,2105.4 1650.0,2110.3 1645.0,2120.2 1638.9,2131.2 1635.2,2140.0 1632.4,2151.7 1627.2,2164.7 1611.7,2169.8 1606.6,2177.6 1588.4,2177.6 1578.1,2188.0 1572.9,2203.4 1557.4,2211.2 1547.0,2198.3 1545.8,2180.2 1539.3,2167.2 1530.7,2157.3 1518.6,2146.6 1513.3,2140.0 1510.8,2126.3 1510.8,2106.6 1513.3,2096.7 1513.3,2077.0 1517.0,2072.1 1525.6,2068.4 1533.0,2067.2 1539.1,2067.2 1544.0,2069.7 1545.3,2078.3 1549.0,2084.4 1556.4,2086.9 1565.0,2082.0 1563.7,2072.1 1563.7,2067.2 1573.6,2062.3 1583.4,2057.3 1584.7,2040.1 1588.4,2025.3 1597.0,2015.5 1606.8,2010.5 1606.2,2003.2 1603.2,1998.2 1603.2,1981.0 1608.1,1976.0"/></g><g fill="#000"><circle cx="1131.5" cy="2123.7" r="5.5"/><circle cx="817.3" cy="2340.6" r="5.5"/><circle cx="1327.7" cy="2127.3" r="5.5"/><circle cx="1492.8" cy="2141.4" r="5.5"/><circle cx="1616.9" cy="2134.9" r="5.5"/><circle cx="1576" cy="2001.3" r="5.5"/><circle cx="1382.8" cy="2243.5" r="5.5"/><circle cx="921.3" cy="2466" r="5.5"/><circle cx="930.8" cy="2537.1" r="5.5"/><circle cx="672.4" cy="2541" r="5.5"/><circle cx="760.1" cy="2607.7" r="5.5"/><circle cx="595.6" cy="2801.1" r="5.5"/><circle cx="577.9" cy="2855.8" r="5.5"/><circle cx="394.6" cy="2875" r="5.5"/><circle cx="574.9" cy="2981.4" r="5.5"/><polygon points="939.5,2340.0 941.9,2346.3 948.5,2346.6 943.3,2350.7 945.1,2357.2 939.5,2353.5 933.9,2357.2 935.7,2350.7 930.5,2346.6 937.1,2346.3"/></g><g font-family="FreeSans,'Liberation Sans',Arial,sans-serif" font-weight="700" font-size="46" text-anchor="middle" fill="#000"><text x="1095" y="2124.6">60</text><text x="950" y="2328.4">71</text><text x="774" y="2346.2">14</text><text x="1307" y="2116.5">5</text><text x="1494" y="2199.6">4</text><text x="1579" y="2133.7">3</text><text x="1374" y="2297.8">27</text><text x="951" y="2493">4</text><text x="958" y="2580">10</text><text x="796" y="2652">32</text><text x="634" y="2794">26</text><text x="428" y="2902">10</text><text x="579.3" y="2963.5">4</text></g><g font-family="'Liberation Sans',Arial,sans-serif" font-weight="700" font-size="40" text-anchor="middle" fill="#000"><text x="1566" y="1987.3">*</text><text x="692.1" y="2537.4">*</text><text x="531.9" y="2864.8">*</text></g><g font-family="'DejaVu Sans',Verdana,sans-serif" font-weight="700" fill="#000"><text x="1256" y="2465.6" font-size="32.6">Casos confirmados</text><rect x="1244.2" y="2512.3" width="34.5" height="34" fill="#A90000" stroke="#000" stroke-width="2.5"/><text x="1306" y="2552.3" font-size="29.6">&gt; 40</text><rect x="1244.2" y="2566.0" width="34.5" height="34" fill="#FF0000" stroke="#000" stroke-width="2.5"/><text x="1295" y="2606.0" font-size="29.6">30 - 39</text><rect x="1244.2" y="2619.7" width="34.5" height="34" fill="#FF8000" stroke="#000" stroke-width="2.5"/><text x="1295" y="2659.7" font-size="29.6">20 - 29</text><rect x="1244.2" y="2673.4" width="34.5" height="34" fill="#FFF200" stroke="#000" stroke-width="2.5"/><text x="1295" y="2713.4" font-size="29.6">10 - 19</text><rect x="1244.2" y="2727.1" width="34.5" height="34" fill="#11C10E" stroke="#000" stroke-width="2.5"/><text x="1295" y="2767.1" font-size="29.6">0 - 9</text></g></svg>
<script>(function(){var W=[420, 1018.3, 152.4, 430.4, 19, 19, 38, 38, 38, 38, 38, 38, 38, 19, 137.4, 19, 19, 160.5, 38, 19, 38, 145, 106.7, 107.3, 38, 19, 120.6, 22.3, 22.3, 224.9, 328.2, 114.2, 224.3, 1539, 1249.8, 611.4, 174, 98.3, 215.9, 152.7, 42.2, 174.4, 42.2, 113.8, 21.1, 127.9, 21.1, 178.3, 21.1, 161.1, 115.9, 42.2, 200.9, 76.7, 25.9, 261.6, 21.1, 91.8, 42.2, 278.1, 42.2, 118.5, 25.9, 119.2, 25.9, 162.2, 125.3, 21.1, 133.9, 42.2, 128.2, 42.2, 229.3, 42.2, 719, 288.7, 23.2],O="rrrlrrrrrrrrccccccccccccccccclllllllccclclclclclcllcllclclclclclcllclclclclll";for(var i=0;i<W.length;i++){var e=document.getElementById("t"+i);if(!e)continue;var w=e.getBoundingClientRect().width;if(w>0&&Math.abs(w/W[i]-1)>0.015){e.style.transformOrigin=(O[i]=="r"?"right":O[i]=="c"?"center":"left")+" center";e.style.transform="scaleX("+(W[i]/w).toFixed(4)+")";}}})();</script>
</body></html>
